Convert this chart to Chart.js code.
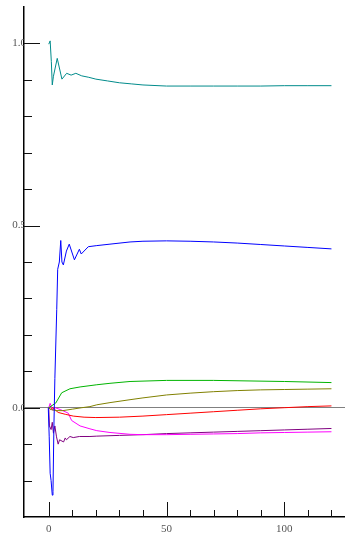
<!DOCTYPE html>
<html>
<head>
<meta charset="utf-8">
<script src="https://cdn.jsdelivr.net/npm/chart.js@4"></script>
<style>
  html, body { margin: 0; padding: 0; background: #fff; }
  canvas { display: block; }
</style>
</head>
<body>
<canvas id="respChart" width="345" height="538"></canvas>
<script>
// time axis ticks and value axis ticks
const xTicks = [0, 10, 20, 30, 40, 50, 60, 70, 80, 90, 100, 110, 120];
const xMajor = [0, 50, 100];
const yTicks = [-0.2, -0.1, 0.0, 0.1, 0.2, 0.3, 0.4, 0.5, 0.6, 0.7, 0.8, 0.9, 1.0];
const yMajor = [0.0, 0.5, 1.0];

// each response curve
const tealT = [0, 0.6, 1.1, 1.5, 2.0, 3.6, 5.6, 7.6, 9.5, 11.5, 14, 17, 20, 25, 30, 35, 40, 50, 60, 70, 80, 90, 100, 110, 120];
const tealV = [0.998, 1.007, 0.95, 0.886, 0.91, 0.959, 0.902, 0.918, 0.913, 0.918, 0.911, 0.907, 0.902, 0.897, 0.892, 0.889, 0.886, 0.883, 0.883, 0.883, 0.883, 0.883, 0.884, 0.884, 0.884];

const blueT = [-0.2, 0.2, 0.6, 1.0, 1.5, 1.8, 2.2, 2.6, 3.4, 3.8, 4.5, 5.1, 5.6, 6.2, 7.5, 8.7, 10.9, 13, 13.8, 16.8, 20.4, 26, 34.5, 40, 50, 60, 70, 80, 90, 100, 110, 120];
const blueV = [0.0, -0.08, -0.18, -0.2, -0.24, -0.23, -0.05, 0.08, 0.27, 0.38, 0.40, 0.459, 0.40, 0.392, 0.43, 0.449, 0.406, 0.435, 0.422, 0.442, 0.445, 0.449, 0.455, 0.457, 0.458, 0.457, 0.455, 0.452, 0.448, 0.444, 0.440, 0.436];

const greenT = [0, 3, 5.5, 9, 13.3, 20.4, 26, 34.5, 50, 70, 100, 120];
const greenV = [0.0, 0.013, 0.041, 0.052, 0.057, 0.063, 0.067, 0.072, 0.075, 0.075, 0.072, 0.069];

const oliveT = [0, 1, 3, 6, 10, 14, 17.5, 20.4, 26, 34.5, 40, 50, 60, 70, 80, 90, 100, 110, 120];
const oliveV = [0.0, -0.005, -0.008, -0.008, -0.004, 0.0, 0.003, 0.008, 0.014, 0.022, 0.027, 0.035, 0.04, 0.044, 0.047, 0.049, 0.05, 0.051, 0.052];

const redT = [0, 0.8, 1.7, 4, 7, 10.4, 15, 20, 30, 40, 50, 60, 70, 80, 90, 100, 110, 120];
const redV = [0.0, -0.005, 0.0, -0.013, -0.018, -0.023, -0.026, -0.027, -0.026, -0.023, -0.019, -0.015, -0.011, -0.007, -0.003, 0.0, 0.003, 0.005];

const magentaT = [0, 0.6, 1.7, 2.7, 4.9, 8.3, 9.7, 13.3, 17.5, 20.4, 26, 34.5, 40, 50, 60, 70, 80, 90, 100, 110, 120];
const magentaV = [0.0, 0.012, -0.007, 0.0, -0.005, -0.015, -0.035, -0.05, -0.058, -0.063, -0.068, -0.073, -0.074, -0.074, -0.073, -0.072, -0.071, -0.069, -0.068, -0.067, -0.066];

const purpleT = [0, 0.3, 1, 1.5, 2, 2.6, 3.3, 4, 4.6, 6.3, 7, 7.5, 9, 10.4, 13, 17.5, 20.4, 30, 40, 50, 60, 70, 80, 90, 100, 110, 120];
const purpleV = [0.0, -0.05, -0.06, -0.04, -0.07, -0.05, -0.08, -0.1, -0.088, -0.094, -0.083, -0.088, -0.079, -0.082, -0.079, -0.079, -0.078, -0.076, -0.074, -0.071, -0.069, -0.067, -0.065, -0.063, -0.061, -0.059, -0.057];

function pts(t, v) {
  return t.map((x, i) => ({ x: x, y: v[i] }));
}

function series(t, v, color) {
  return {
    data: pts(t, v),
    borderColor: color,
    borderWidth: 1,
    pointRadius: 0,
    tension: 0,
    fill: false
  };
}

function isMajor(list, v) {
  return list.some(m => Math.abs(m - v) < 1e-6);
}

// inward tick marks, longer ones at the labelled values
const tickMarks = {
  id: "tickMarks",
  afterDraw(chart) {
    const ctx = chart.ctx;
    const xs = chart.scales.x;
    const ys = chart.scales.y;
    const area = chart.chartArea;
    ctx.save();
    ctx.strokeStyle = "#111";
    ctx.lineWidth = 1;
    ctx.beginPath();
    xTicks.forEach(v => {
      const px = Math.round(xs.getPixelForValue(v)) + 0.5;
      const len = isMajor(xMajor, v) ? 15 : 7;
      ctx.moveTo(px, area.bottom);
      ctx.lineTo(px, area.bottom - len);
    });
    yTicks.forEach(v => {
      const py = Math.round(ys.getPixelForValue(v)) + 0.5;
      const len = isMajor(yMajor, v) ? 16 : 8;
      ctx.moveTo(area.left, py);
      ctx.lineTo(area.left + len, py);
    });
    ctx.stroke();
    ctx.restore();
  }
};

const config = {
  type: "line",
  data: {
    datasets: [
      series(tealT, tealV, "#008b8b"),
      series(blueT, blueV, "#0000ff"),
      series(greenT, greenV, "#00b400"),
      series(oliveT, oliveV, "#808000"),
      series(redT, redV, "#ff0000"),
      series(magentaT, magentaV, "#ff00ff"),
      series(purpleT, purpleV, "#800080")
    ]
  },
  options: {
    responsive: false,
    devicePixelRatio: 1,
    animation: false,
    layout: { padding: { top: 7, left: 0, right: 0, bottom: 0 } },
    plugins: {
      legend: { display: false },
      tooltip: { enabled: false }
    },
    scales: {
      x: {
        type: "linear",
        min: -10.5,
        max: 125.75,
        afterBuildTicks(scale) {
          scale.ticks = xTicks.map(v => ({ value: v }));
        },
        afterFit(scale) {
          scale.height = 21;
        },
        grid: { display: false, drawTicks: false },
        border: { display: true, color: "#000", width: 1.5 },
        ticks: {
          padding: 6,
          color: "#555",
          font: { family: "Liberation Serif", size: 11 },
          maxRotation: 0,
          autoSkip: false,
          callback: v => (isMajor(xMajor, v) ? String(v) : "")
        }
      },
      y: {
        type: "linear",
        min: -0.3,
        max: 1.1,
        afterBuildTicks(scale) {
          scale.ticks = yTicks.map(v => ({ value: v }));
        },
        afterFit(scale) {
          scale.width = 24;
        },
        grid: {
          drawTicks: false,
          color: c => (c.tick && Math.abs(c.tick.value) < 1e-6 ? "#808080" : "rgba(0,0,0,0)"),
          lineWidth: 1
        },
        border: { display: true, color: "#000", width: 1.5 },
        ticks: {
          padding: -2,
          color: "#555",
          font: { family: "Liberation Serif", size: 11 },
          autoSkip: false,
          callback: v => (isMajor(yMajor, v) ? v.toFixed(1) : "")
        }
      }
    }
  },
  plugins: [tickMarks]
};

const respChart = new Chart(document.getElementById("respChart"), config);
</script>
</body>
</html>
